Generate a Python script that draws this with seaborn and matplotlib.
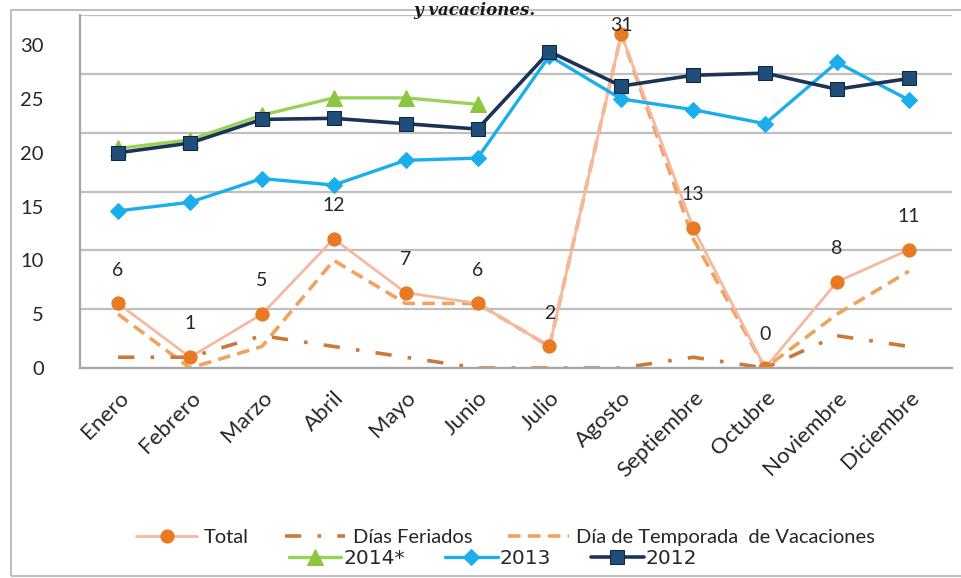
import numpy as np
import pandas as pd
import matplotlib.pyplot as plt
import seaborn as sns
from matplotlib.patches import Rectangle

meses = ["Enero", "Febrero", "Marzo", "Abril", "Mayo", "Junio", "Julio",
         "Agosto", "Septiembre", "Octubre", "Noviembre", "Diciembre"]

total = [6, 1, 5, 12, 7, 6, 2, 31, 13, 0, 8, 11]
feriados = [1, 1, 3, 2, 1, 0, 0, 0, 1, 0, 3, 2]
temporada = [5, 0, 2, 10, 6, 6, 2, 31, 12, 0, 5, 9]

y2014 = [20.4, 21.2, 23.5, 25.1, 25.1, 24.5]
y2013 = [14.6, 15.4, 17.6, 17.0, 19.3, 19.5, 29.0, 25.0, 24.0, 22.7, 28.4, 24.9]
y2012 = [20.0, 20.9, 23.1, 23.2, 22.7, 22.2, 29.4, 26.2, 27.2, 27.4, 25.9, 26.9]

sns.set_theme(style="white")
plt.rcParams['font.family'] = ['Lato', 'DejaVu Sans']

pos = np.arange(len(meses))

fig = plt.figure(figsize=(9.61, 5.78), dpi=100)
ax = fig.add_axes([80 / 961, 1 - 368 / 578, (952 - 80) / 961, (368 - 15) / 578])

# gridlines come from the hidden secondary axis (as in the original chart)
ax2 = ax.twinx()
ax2.set_ylim(0, 30)
ax2.set_yticks(range(0, 31, 5))
ax2.yaxis.grid(True, color="#BFBFBF", lw=1.6)
ax2.tick_params(axis="y", length=0, labelright=False)
for s in ax2.spines.values():
    s.set_visible(False)
ax.set_zorder(ax2.get_zorder() + 1)
ax.patch.set_visible(False)

sns.lineplot(x=pos, y=temporada, ax=ax, color="#F0A35E", lw=2.6,
             linestyle=(0, (3.5, 2)), label="Día de Temporada  de Vacaciones")
sns.lineplot(x=pos, y=feriados, ax=ax, color="#C9793A", lw=2.6,
             linestyle=(0, (4.5, 4.5, 1, 4.5)), label="Días Feriados")
sns.lineplot(x=pos, y=total, ax=ax, color="#F4B9A0", lw=2, marker="o",
             markersize=9.5, markerfacecolor="#E87A24", markeredgecolor="#E87A24",
             label="Total")
sns.lineplot(x=pos[:len(y2014)], y=y2014, ax=ax, color="#9BD158", lw=2.4,
             marker="^", markersize=11, markerfacecolor="#8CC63F",
             markeredgecolor="#8CC63F", label="2014*")
sns.lineplot(x=pos, y=y2013, ax=ax, color="#1AAEEA", lw=2.4, marker="D",
             markersize=8.5, markerfacecolor="#1AAEEA",
             markeredgecolor="#1AAEEA", label="2013")
sns.lineplot(x=pos, y=y2012, ax=ax, color="#1B3357", lw=2.6, marker="s",
             markersize=10.5, markerfacecolor="#1F4E79",
             markeredgecolor="#10253F", label="2012")

if ax.get_legend() is not None:
    ax.get_legend().remove()

for i, v in enumerate(total):
    ax.text(pos[i], min(v + 3.1, 31.8), str(v), ha="center", va="center",
            fontsize=14, color="#262626")

ax.set_xlim(-0.53, 11.6)
ax.set_ylim(0, 32.8)
ax.set_yticks(range(0, 31, 5))
ax.set_xticks(pos)
ax.set_xticklabels(meses, rotation=45, ha="right", rotation_mode="anchor")
ax.tick_params(axis="x", length=0, pad=14, labelsize=16, labelcolor="#262626")
ax.tick_params(axis="y", length=0, pad=26, labelsize=14.5, labelcolor="#262626")
ax.set_xlabel("")
ax.set_ylabel("")
for s in ["top", "right"]:
    ax.spines[s].set_visible(False)
for s in ["left", "bottom"]:
    ax.spines[s].set_color("#A6A6A6")
    ax.spines[s].set_linewidth(1.6)

h, l = ax.get_legend_handles_labels()
hd = dict(zip(l, h))
row1 = ["Total", "Días Feriados", "Día de Temporada  de Vacaciones"]
row2 = ["2014*", "2013", "2012"]
fig.legend([hd[k] for k in row1], row1, loc="center",
           bbox_to_anchor=(0.526, 1 - 537 / 578), ncol=3, frameon=False,
           fontsize=14.5, handlelength=3.0, columnspacing=1.8, handletextpad=0.35,
           labelcolor="#262626", borderpad=0.1)
fig.legend([hd[k] for k in row2], row2, loc="center",
           bbox_to_anchor=(0.513, 1 - 559 / 578), ncol=3, frameon=False,
           prop={"family": "DejaVu Sans", "size": 14.5}, handlelength=2.6,
           columnspacing=2.0, handletextpad=0.1, labelcolor="#262626",
           borderpad=0.1)

fig.patches.append(Rectangle((11 / 961, 2 / 578), 1.1, (576 - 10) / 578,
                             transform=fig.transFigure, fill=False,
                             ec="#BFBFBF", lw=1.5))
fig.text(0.494, 1 - 15 / 578, "y vacaciones.", ha="center", va="baseline",
         fontsize=12, fontstyle="italic", fontweight="bold",
         family="DejaVu Serif", color="#1a1a1a")

fig.savefig("out.png", dpi=100)
